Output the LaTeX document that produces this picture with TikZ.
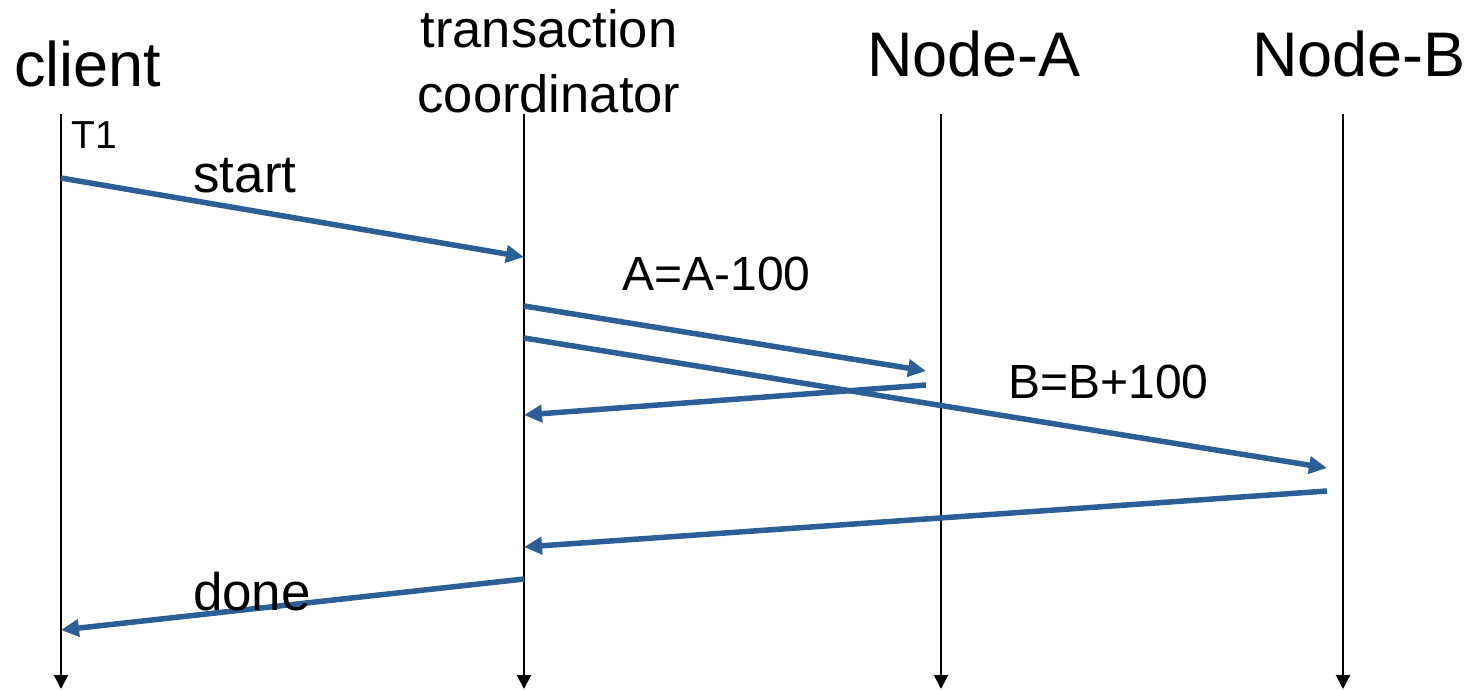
\documentclass[tikz,border=0pt]{standalone}
\usepackage{fontspec}
\setmainfont{Liberation Sans}
\usetikzlibrary{arrows.meta}
\definecolor{msgblue}{RGB}{44,95,149}
\tikzset{
  lifeline/.style={draw=black, line width=2pt, -{Triangle[length=14pt,width=14pt]}},
  msg/.style={draw=msgblue, line width=5.5pt, -{Triangle[length=18pt,width=17pt]}},
  txt/.style={inner sep=0pt, anchor=base, text=black},
  head/.style={txt, font=\fontsize{63}{63}\selectfont},
  midhead/.style={txt, align=center, font=\fontsize{52.5}{65}\selectfont},
  lbl/.style={txt, font=\fontsize{53}{53}\selectfont},
  small/.style={txt, font=\fontsize{48}{48}\selectfont},
  tiny/.style={txt, font=\fontsize{39}{39}\selectfont}
}
\begin{document}
\begin{tikzpicture}[x=1pt, y=-1pt]
  \useasboundingbox (0,0) rectangle (1469,689);

  % participant headings (the two-line heading sits on the baseline of its last line)
  \node[head] (client) at (88,86) {client};
  \node[midhead] (coord) at (549,112) {transaction\\coordinator};
  \node[head] (nodeA) at (974,76) {Node-A};
  \node[head] (nodeB) at (1359,76) {Node-B};

  % lifeline end points
  \coordinate (cTop) at (61,114);   \coordinate (cBot) at (61,689);
  \coordinate (tTop) at (524,114);  \coordinate (tBot) at (524,689);
  \coordinate (aTop) at (941,114);  \coordinate (aBot) at (941,689);
  \coordinate (bTop) at (1343,114); \coordinate (bBot) at (1343,689);

  \draw[lifeline] (cTop) -- (cBot);
  \draw[lifeline] (tTop) -- (tBot);
  \draw[lifeline] (aTop) -- (aBot);
  \draw[lifeline] (bTop) -- (bBot);

  % message end points
  \coordinate (m1s) at (61,178);   \coordinate (m1e) at (524,257);
  \coordinate (m2s) at (524,306);  \coordinate (m2e) at (926,371);
  \coordinate (m3s) at (524,338);  \coordinate (m3e) at (1327,468);
  \coordinate (m4s) at (926,385);  \coordinate (m4e) at (524,415);
  \coordinate (m5s) at (1327,491); \coordinate (m5e) at (524,547);
  \coordinate (m6s) at (524,579);  \coordinate (m6e) at (61,630);

  \draw[msg] (m1s) -- (m1e);
  \draw[msg] (m2s) -- (m2e);
  \draw[msg] (m3s) -- (m3e);
  \draw[msg] (m4s) -- (m4e);
  \draw[msg] (m5s) -- (m5e);
  \draw[msg] (m6s) -- (m6e);

  % labels
  \node[tiny] (t1) at (94.5,148) {T1};
  \node[lbl] (start) at (245,192) {start};
  \node[small] (opA) at (716.5,290) {A=A-100};
  \node[small] (opB) at (1108.5,398) {B=B+100};
  \node[lbl] (done) at (252,610) {done};
\end{tikzpicture}
\end{document}
